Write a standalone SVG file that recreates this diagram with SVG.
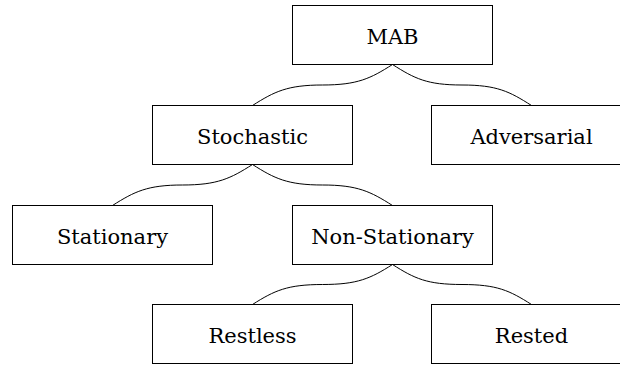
<svg xmlns="http://www.w3.org/2000/svg" width="620" height="365" viewBox="0 0 620 365">
  <style>
    .box { fill: #ffffff; stroke: #000000; stroke-width: 1; }
    .lbl { font-family: 'DejaVu Serif', 'Liberation Serif', serif; font-size: 21px; fill: #000000; text-anchor: middle; }
    .edge { fill: none; stroke: #000000; stroke-width: 1; }
  </style>
  <rect width="620" height="365" fill="#ffffff"/>
  <g id="connectors">
    <path class="edge" d="M392.5,64.5 C370.5,78.5 357.5,85 322.5,85 C287.5,85 274.5,91.5 252.5,105.5"/>
    <path class="edge" d="M392.5,64.5 C414.5,78.5 427,85 462,85 C497,85 509.5,91.5 531.5,105.5"/>
    <path class="edge" d="M252.5,164.5 C230.5,178.5 217.5,185 182.5,185 C147.5,185 134.5,191.5 112.5,205.5"/>
    <path class="edge" d="M252.5,164.5 C274.5,178.5 287.5,185 322.5,185 C357.5,185 370.5,191.5 392.5,205.5"/>
    <path class="edge" d="M392.5,264.5 C370.5,278.5 357.5,284.5 322.5,284.5 C287.5,284.5 274.5,290.5 252.5,304.5"/>
    <path class="edge" d="M392.5,264.5 C414.5,278.5 427,284.5 462,284.5 C497,284.5 509.5,290.5 531.5,304.5"/>
  </g>
  <g id="mab">
    <rect class="box" x="292.5" y="5.5" width="200" height="59"/>
    <text class="lbl" x="392.5" y="44">MAB</text>
  </g>
  <g id="stochastic">
    <rect class="box" x="152.5" y="105.5" width="200" height="59"/>
    <text class="lbl" x="252.5" y="144">Stochastic</text>
  </g>
  <g id="adversarial">
    <rect class="box" x="431.5" y="105.5" width="200" height="59"/>
    <text class="lbl" x="531.5" y="144">Adversarial</text>
  </g>
  <g id="stationary">
    <rect class="box" x="12.5" y="205.5" width="200" height="59"/>
    <text class="lbl" x="112.5" y="244">Stationary</text>
  </g>
  <g id="non-stationary">
    <rect class="box" x="292.5" y="205.5" width="200" height="59"/>
    <text class="lbl" x="392.5" y="244">Non-Stationary</text>
  </g>
  <g id="restless">
    <rect class="box" x="152.5" y="304.5" width="200" height="59"/>
    <text class="lbl" x="252.5" y="343">Restless</text>
  </g>
  <g id="rested">
    <rect class="box" x="431.5" y="304.5" width="200" height="59"/>
    <text class="lbl" x="531.5" y="343">Rested</text>
  </g>
</svg>
